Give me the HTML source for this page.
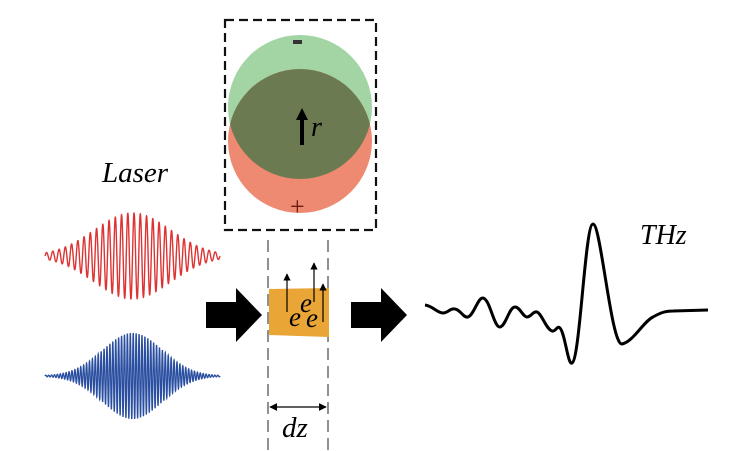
<!DOCTYPE html>
<html><head><meta charset="utf-8"><style>
html,body{margin:0;padding:0;background:#fff;}
svg{display:block;}
svg text{font-family:"Liberation Serif","DejaVu Serif",serif;font-style:italic;}
</style></head><body>
<svg id="s" width="733" height="451" viewBox="0 0 733 451" xmlns="http://www.w3.org/2000/svg">
<defs>
<clipPath id="cg"><circle cx="300" cy="107" r="72"/></clipPath>
<marker id="ah" viewBox="0 0 10 10" refX="9" refY="5" markerWidth="6" markerHeight="6" orient="auto-start-reverse"><path d="M0,0 L10,5 L0,10 z" fill="#000"/></marker>
</defs>
<rect x="225" y="20" width="151" height="210" fill="none" stroke="#111" stroke-width="2.2" stroke-dasharray="9,5"/>
<circle cx="300" cy="107" r="72" fill="#a3d4a4"/>
<circle cx="300" cy="141" r="72" fill="#ef8a72"/>
<circle cx="300" cy="141" r="72" fill="#6b7a50" clip-path="url(#cg)"/>
<rect x="293" y="40" width="9" height="4" fill="#333"/>
<text x="290" y="215" style="font-style:normal" font-size="26" fill="#6a1a10">+</text>
<line x1="302" y1="145" x2="302" y2="118" stroke="#000" stroke-width="4"/>
<path d="M296,120 L302,108 L308,120 z" fill="#000"/>
<text x="311" y="136" font-size="28">r</text>
<text x="102" y="182" font-size="29">Laser</text>
<text x="640" y="244" font-size="28">THz</text>
<path id="red" fill="none" stroke="#d33" stroke-width="1.4"/>
<path id="blue" fill="none" stroke="#2a4fa0" stroke-width="1.3"/>
<line x1="268" y1="240" x2="268" y2="451" stroke="#555" stroke-width="1.3" stroke-dasharray="12,6"/>
<line x1="328" y1="240" x2="328" y2="451" stroke="#555" stroke-width="1.3" stroke-dasharray="12,6"/>
<path d="M269,289 L329,288 L329,337 L269,335 z" fill="#e9a535"/>
<line x1="287" y1="312" x2="287" y2="274" stroke="#000" stroke-width="1.2" marker-end="url(#ah)"/>
<line x1="314" y1="302" x2="314" y2="263" stroke="#000" stroke-width="1.2" marker-end="url(#ah)"/>
<line x1="323" y1="322" x2="323" y2="284" stroke="#000" stroke-width="1.2" marker-end="url(#ah)"/>
<text x="300" y="312" font-size="27">e</text>
<text x="289" y="326" font-size="27">e</text>
<text x="306" y="327" font-size="27">e</text>
<path d="M206,302 L236,302 L236,288 L262,315 L236,342 L236,328 L206,328 z" fill="#000"/>
<path d="M351,302 L381,302 L381,288 L407,315 L381,342 L381,328 L351,328 z" fill="#000"/>
<line x1="270" y1="407" x2="326" y2="407" stroke="#000" stroke-width="1.3" marker-start="url(#ah)" marker-end="url(#ah)"/>
<text x="282" y="437" font-size="29">dz</text>
<path fill="none" stroke="#000" stroke-width="3" stroke-linejoin="round" d="M425,305 C433,306 437,313 443,313 C448,313 450,308 455,309 C461,310 463,318 468,317 C474,315 478,297 483,298 C490,299 494,328 500,327 C506,326 509,307 515,307 C520,307 523,317 527,317 C531,317 533,311 537,312 C542,314 546,329 552,331 C556,332 557,325 560,328 C565,333 568,366 572,363 C580,360 585,224 593,224 C601,224 611,345 622,344 C633,342 643,322 653,317 C660,313 665,311 673,311 L708,310"/>
</svg>
<script>
function pulse(id,cy,cycles,amp,x0,x1,sig,floor){
 var d="",n=2400,cx=(x0+x1)/2;
 for(var i=0;i<=n;i++){var x=x0+(x1-x0)*i/n;var t=(x-cx)/sig;var e=Math.max(Math.exp(-t*t),floor);
 var y=cy-amp*e*Math.sin(2*Math.PI*cycles*(x-x0)/(x1-x0));
 d+=(i?"L":"M")+x.toFixed(2)+","+y.toFixed(2);}
 document.getElementById(id).setAttribute("d",d);}
pulse("red",256,28,43,45,220,54,0.03);
pulse("blue",376,60,43,45,220,42,0.02);
</script>
</body></html>
